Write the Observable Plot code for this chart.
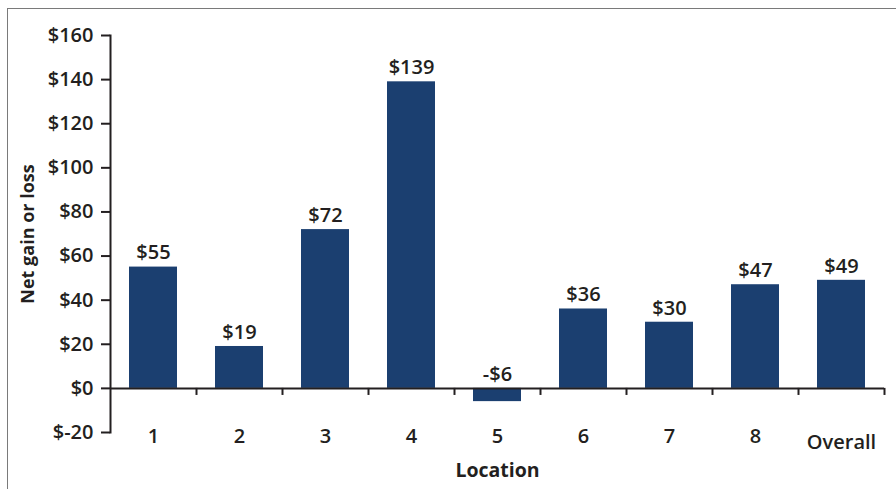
<!DOCTYPE html>
<html>
<head>
<meta charset="utf-8">
<script src="https://cdn.jsdelivr.net/npm/d3@7"></script>
<script src="https://cdn.jsdelivr.net/npm/@observablehq/plot@0.6"></script>
<style>
  html, body { margin: 0; padding: 0; background: #fff; overflow: hidden; }
  #wrap { position: relative; width: 896px; height: 489px; }
  #border { position: absolute; left: 7px; top: 8px; width: 1000px; height: 1000px; border: 1.5px solid #7a7a7a; box-sizing: border-box; }
  #chart { position: absolute; left: 0; top: 0; }
  svg text { font-family: "Open Sans", sans-serif; }
</style>
</head>
<body>
<div id="wrap"><div id="border"></div><div id="chart"></div></div>
<script>
const categories = ["1", "2", "3", "4", "5", "6", "7", "8", "Overall"];
const values = [55, 19, 72, 139, -6, 36, 30, 47, 49];
const yTicks = [-20, 0, 20, 40, 60, 80, 100, 120, 140, 160];

const data = categories.map((c, i) => ({ c, v: values[i] }));
const fmtVal = v => v < 0 ? "-$" + Math.abs(v) : "$" + v;
const ink = "#231f20";
const barColor = "#1b3f70";
const fs = 20;

const chart = Plot.plot({
  width: 896,
  height: 489,
  marginLeft: 110,
  marginRight: 12,
  marginTop: 35,
  marginBottom: 57,
  style: { fontFamily: "Open Sans, sans-serif", color: ink, background: "transparent" },
  x: { domain: categories, paddingInner: 0.44, paddingOuter: 0.22, axis: null },
  y: { domain: [-20, 160], axis: null },
  marks: [
    Plot.barY(data, { x: "c", y: "v", fill: barColor }),
    Plot.axisY({ ticks: yTicks, tickSize: 9, tickPadding: 8, tickFormat: d => "$" + d, fontSize: fs, fontWeight: 600, stroke: ink, strokeWidth: 2, fill: ink, label: null }),
    Plot.frame({ anchor: "left", stroke: ink, strokeWidth: 2 }),
    Plot.ruleY([0], { stroke: ink, strokeWidth: 2 }),
    Plot.ruleX(categories, { x: d => d, y1: 0, y2: -3.2, dx: 43, stroke: ink, strokeWidth: 2 }),
    Plot.text(data, { x: "c", y: d => Math.max(d.v, 0), text: d => fmtVal(d.v), dy: -14, fontSize: fs, fontWeight: 600, fill: ink }),
    Plot.text(categories.filter(c => c !== "Overall"), { x: d => d, y: -20, dy: 4, fontSize: fs, fontWeight: 600, fill: ink }),
    Plot.text(categories.filter(c => c === "Overall"), { x: d => d, y: -20, dy: 10, fontSize: fs, fontWeight: 600, fill: ink }),
    Plot.text(["Location"], { frameAnchor: "bottom", lineAnchor: "middle", textAnchor: "middle", dy: 38, fontSize: 19.5, fontWeight: 700, fill: ink }),
    Plot.text(["Net gain or loss"], { frameAnchor: "left", rotate: -90, textAnchor: "middle", lineAnchor: "middle", dx: -82, dy: 0, fontSize: 18, fontWeight: 700, fill: ink })
  ]
});
document.getElementById("chart").appendChild(chart);
</script>
</body>
</html>
